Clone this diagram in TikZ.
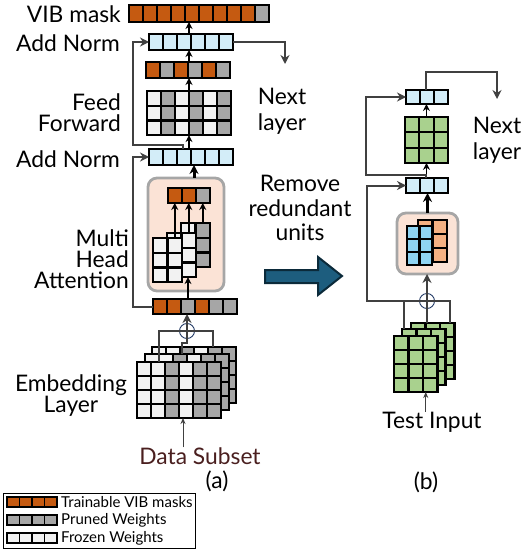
\documentclass[tikz,border=0pt]{standalone}
\usepackage{fontspec}
\setmainfont{Lato}
\usetikzlibrary{arrows.meta,positioning}

\definecolor{vibor}{HTML}{C55A11}
\definecolor{prgray}{HTML}{A6A6A6}
\definecolor{frz}{HTML}{F2F2F2}
\definecolor{normblue}{HTML}{D3EDF8}
\definecolor{attbg}{HTML}{FBE3D6}
\definecolor{headblue}{HTML}{8FD4F2}
\definecolor{heador}{HTML}{F4B183}
\definecolor{ffgreen}{HTML}{A9D18E}
\definecolor{bigarrow}{HTML}{1D5D7E}
\definecolor{bigedge}{HTML}{0B2A3A}
\definecolor{datared}{HTML}{4A1F1F}
\definecolor{sumblue}{HTML}{203864}
\definecolor{darkline}{HTML}{404040}

% grid of cells with a named node over it
% #1 name, #2 x, #3 y, #4 cell w, #5 cell h, #6 cols, #7 rows, #8 column colours
\newcommand{\cellgrid}[8]{%
  \foreach \col [count=\i from 0] in {#8}
    \foreach \rw in {1,...,#7}
      \draw[cell, fill=\col] ({#2+\i*#4},{#3+(\rw-1)*#5}) rectangle ++(#4,#5);
  \node[gridbox, minimum width={#6*#4}, minimum height={#7*#5}] (#1) at (#2,#3) {};
}

\begin{document}
\begin{tikzpicture}[x=1pt,y=-1pt,
    >={Stealth[length=7pt,width=7pt]},
    cell/.style={draw=black, line width=2.2pt},
    gridbox/.style={inner sep=0pt, outer sep=0pt, anchor=north west},
    attbox/.style={gridbox, draw=prgray, line width=2.8pt, fill=attbg, rounded corners=9pt},
    sumnode/.style={circle, draw=sumblue, line width=0.9pt, minimum size=15pt, inner sep=0pt},
    arr/.style={->, line width=1.8pt, black},
    thickarr/.style={-{Stealth[length=9pt,width=9pt]}, line width=3pt, black},
    res/.style={line width=2pt, darkline, >={Stealth[length=9pt,width=9pt,inset=3pt]}},
    inarr/.style={->, line width=1pt, darkline, >={Stealth[length=6pt,width=5pt]}},
    lbl/.style={inner sep=0pt, font=\fontsize{22.8}{21}\selectfont},
    legtxt/.style={inner sep=0pt, font=\fontsize{15}{16}\selectfont}]
  \useasboundingbox (0,0) rectangle (525,551);

  % (a) layer with VIB masks
  \cellgrid{vib}{129}{5}{14}{17}{10}{1}{vibor,vibor,vibor,vibor,vibor,vibor,vibor,vibor,vibor,prgray}
  \cellgrid{addTop}{149}{34}{14}{16}{6}{1}{normblue,normblue,normblue,normblue,normblue,normblue}
  \cellgrid{ffOut}{146}{62}{14}{16}{6}{1}{vibor,prgray,vibor,prgray,vibor,prgray}
  \cellgrid{ff}{147}{91}{14}{14.7}{6}{3}{frz,prgray,frz,prgray,frz,prgray}
  \cellgrid{addLow}{149}{149}{14}{16}{6}{1}{normblue,normblue,normblue,normblue,normblue,normblue}

  \node[attbox, minimum width=76, minimum height=113] (attA) at (148,178) {};
  \cellgrid{headsOut}{168}{188}{14}{15}{3}{1}{vibor,vibor,prgray}
  \cellgrid{hdT}{181}{223}{14.5}{14.7}{2}{3}{frz,prgray}
  \cellgrid{hdS}{167}{233}{14.5}{14.7}{2}{3}{frz,frz}
  \cellgrid{hdF}{153}{238}{14.5}{14.7}{2}{3}{frz,frz}
  \cellgrid{maskIn}{153}{299}{14}{15}{6}{1}{vibor,vibor,prgray,vibor,prgray,prgray}

  % embedding tables, back to front
  \cellgrid{embT}{152}{347}{14}{14}{6}{4}{frz,frz,prgray,frz,prgray,prgray}
  \cellgrid{embS}{145}{354}{14}{14}{6}{4}{frz,frz,prgray,frz,prgray,prgray}
  \cellgrid{embF}{137}{362}{14}{14}{6}{4}{frz,frz,prgray,frz,prgray,prgray}
  \node[sumnode] (sumA) at (187,331) {};

  \node[lbl, anchor=east] (vibLbl) at (121,14) {VIB mask};
  \node[lbl, anchor=east] (addTopLbl) at (120,43) {Add Norm};
  \node[lbl, anchor=east, align=right] (ffLbl) at (121,113) {Feed\\Forward};
  \node[lbl, anchor=east] (addLowLbl) at (120,159) {Add Norm};
  \node[lbl, anchor=east, align=right] (attLbl) at (129,259) {Multi\\Head\\Attention};
  \node[lbl, align=center] (embLbl) at (71,396) {Embedding\\Layer};
  \node[lbl, text=datared] (data) at (200,456) {Data Subset};
  \node[lbl] (capA) at (217,481) {(a)};
  \node[lbl, align=center, font=\fontsize{22.8}{26}\selectfont] (nextA) at (282,111) {Next\\layer};
  \coordinate (nxtA) at (285,64);

  \draw[res] ([xshift=22pt]embF.north west) |- (sumA.center) -| ([xshift=61pt]embT.north west);
  \draw[res] ([xshift=37pt]embS.north west) -- ++(0,-11) -| (sumA.south);
  \draw[res,->] (sumA.south) -- (sumA |- maskIn.south);
  \draw[inarr] ([xshift=4pt]embF.south |- data.north) -- ([xshift=4pt]embF.south);
  \draw[arr] ([xshift=-7pt]maskIn.north) -- ([xshift=-7pt]maskIn.north |- hdS.south);
  \foreach \h in {hdF,hdS,hdT}
    \draw[arr] ([xshift=-7.25pt]\h.north east) -- ([xshift=-7.25pt]\h.north east |- headsOut.south);
  \draw[thickarr] ([xshift=8pt]attA.north) -- ([xshift=8pt]attA.north |- addLow.south);
  \draw[arr] (ff.south |- addLow.north) -- (ff.south);
  \draw[arr] (ff.north) -- (ff.north |- ffOut.south);
  \draw[arr] (ff.north |- ffOut.north) -- (ff.north |- addTop.south);
  \draw[arr] (ff.north |- addTop.north) -- (ff.north |- vib.south);
  \draw[res,->] ([xshift=-8pt]addLow.north) |- ++(-50,-4) |- (addTop.west);
  \draw[res,->] (maskIn.west) -- ++(-20,0) |- (addLow.west);
  \draw[res,->] (addTop.east) -| (nxtA);

  % middle
  \node[lbl, align=center, font=\fontsize{22.8}{24.5}\selectfont] (removeLbl) at (300,208) {Remove\\redundant\\units};
  \fill[bigarrow, draw=bigedge, line width=2pt] (265,270) -- (318,270) -- (318,257) -- (342,276)
    -- (318,295) -- (318,283) -- (265,283) -- cycle;

  % (b) pruned layer
  \cellgrid{addTopB}{406}{90}{14}{14}{3}{1}{normblue,normblue,normblue}
  \cellgrid{ffB}{405}{117}{14.3}{15.3}{3}{3}{ffgreen,ffgreen,ffgreen}
  \cellgrid{addLowB}{406}{178}{14}{15}{3}{1}{normblue,normblue,normblue}
  \node[attbox, minimum width=61, minimum height=61] (attB) at (397,213) {};
  \cellgrid{hdBB}{418}{220}{14.5}{14}{2}{3}{heador,heador}
  \cellgrid{hdFB}{407}{226}{12.5}{13}{2}{3}{headblue,headblue}
  \cellgrid{gT}{411}{323}{14.5}{14}{3}{4}{ffgreen,ffgreen,ffgreen}
  \cellgrid{gS}{402}{329}{14.5}{14}{3}{4}{ffgreen,ffgreen,ffgreen}
  \cellgrid{gF}{394}{336}{14.5}{14}{3}{4}{ffgreen,ffgreen,ffgreen}
  \node[sumnode] (sumB) at (427,301) {};

  \node[lbl] (testin) at (432,422) {Test Input};
  \node[lbl] (capB) at (426,482) {(b)};
  \node[lbl, align=center, font=\fontsize{22.8}{26}\selectfont] (nextB) at (497,140) {Next\\layer};
  \coordinate (nxtB) at (497,99);

  \draw[res] ([xshift=2pt]gS.north west) |- (sumB.center) -| ([xshift=-5pt]gT.north east);
  \draw[res] (sumB |- gT.north) -- (sumB.south);
  \draw[res,->] (sumB.south) -- (sumB |- attB.south);
  \draw[res,->] (sumB.center) -- ++(-60,0) |- (addLowB.west);
  \draw[inarr] ([xshift=10pt]gF.south |- testin.north) -- ([xshift=10pt]gF.south);
  \draw[thickarr] (attB.north) -- (attB.north |- addLowB.south);
  \draw[arr] (ffB.south |- addLowB.north) -- (ffB.south);
  \draw[res,->] (ffB.south |- addLowB.north) |- ++(-60,-3) |- (addTopB.west);
  \draw[arr] (ffB.north) -- (ffB.north |- addTopB.south);
  \draw[res,->] (ffB.north |- addTopB.north) -- ++(0,-18) -| (nxtB);

  % legend
  \node[gridbox, draw, line width=1pt, minimum width=192, minimum height=55] (legend) at (3,493) {};
  \begin{scope}[cell/.style={draw=black, line width=1.5pt}]
    \cellgrid{lgVib}{7}{497}{12.5}{10}{4}{1}{vibor,vibor,vibor,vibor}
    \cellgrid{lgPr}{7}{515}{12.5}{10}{4}{1}{prgray,prgray,prgray,prgray}
    \cellgrid{lgFz}{7}{533}{12.5}{10}{4}{1}{frz,frz,frz,frz}
  \end{scope}
  \node[legtxt, right=4pt of lgVib] (lgVibTxt) {Trainable VIB masks};
  \node[legtxt, right=4pt of lgPr] (lgPrTxt) {Pruned Weights};
  \node[legtxt, right=4pt of lgFz] (lgFzTxt) {Frozen Weights};
\end{tikzpicture}
\end{document}
